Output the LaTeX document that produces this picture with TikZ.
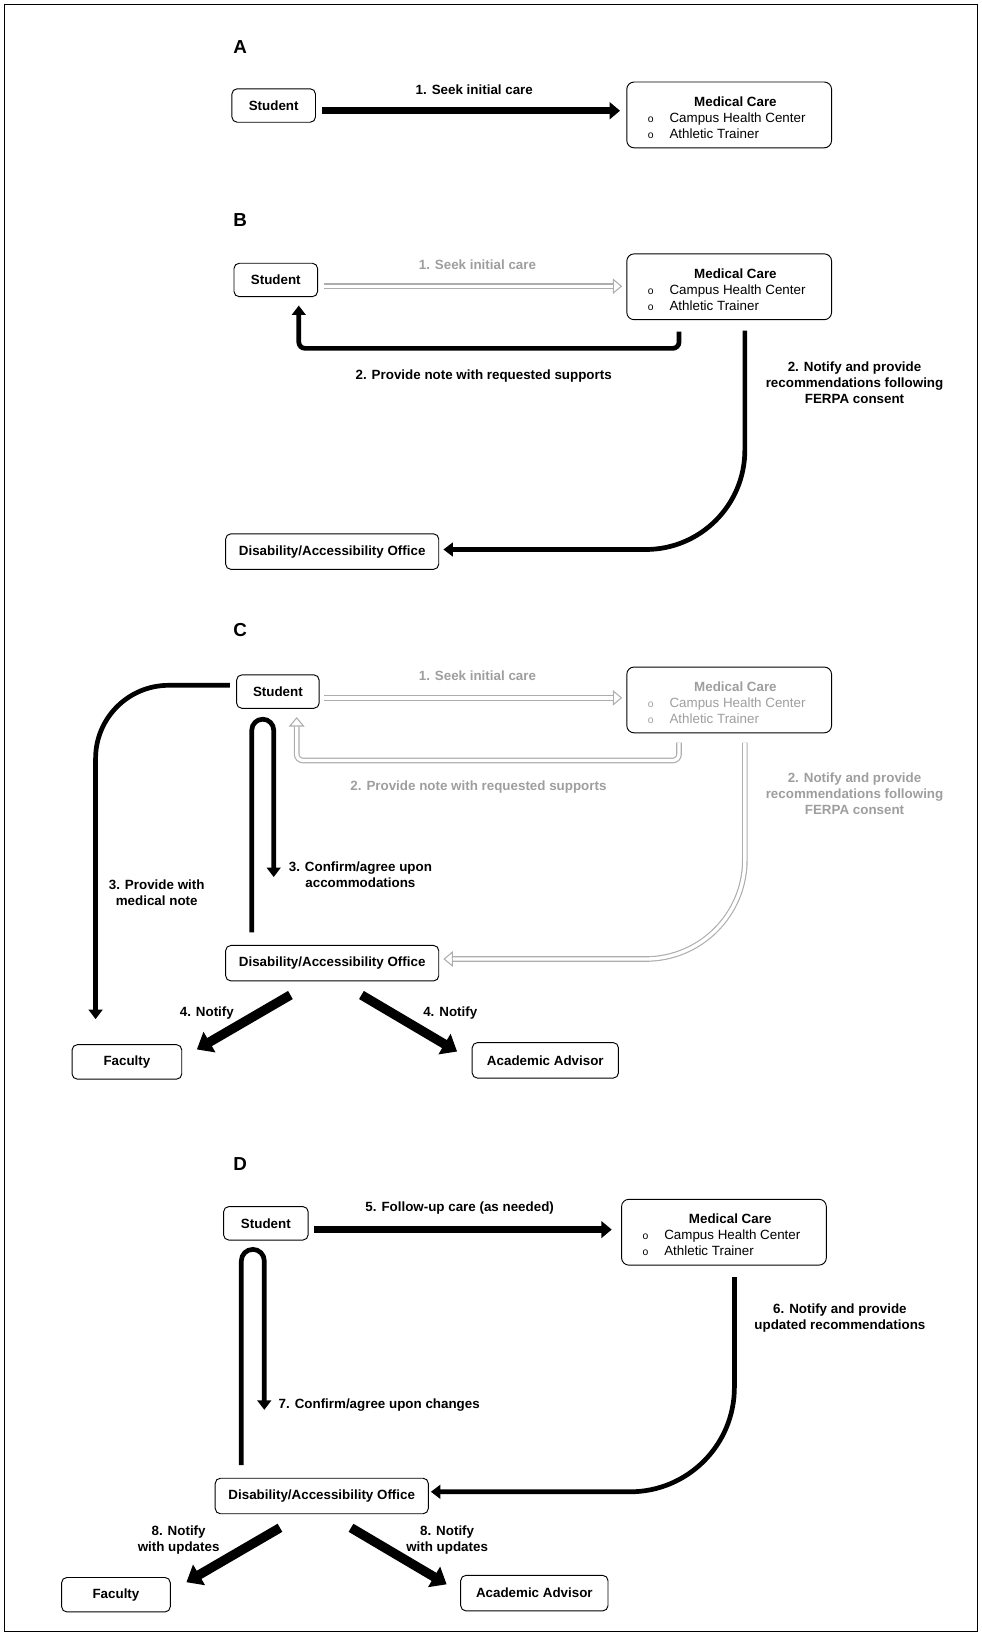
\documentclass[tikz,border=0pt]{standalone}
\usepackage{fontspec}
\setmainfont{Liberation Sans}
\newfontfamily\bulfont{Liberation Mono}
\usetikzlibrary{arrows.meta,calc}
\newcommand{\fsz}{\fontsize{12.8}{15.3}\selectfont}
\newcommand{\bul}{{\bulfont\fontsize{10}{12}\selectfont o}}
\newcommand{\medcare}{\raisebox{0pt}[\dimexpr\height+8pt\relax][\depth]{\begin{tabular}{@{}l@{\hspace{15pt}}l@{\hspace{5pt}}}\multicolumn{2}{@{}c@{}}{\hspace{12pt}\textbf{Medical Care}}\\ \bul & Campus Health Center\\ \bul & Athletic Trainer\end{tabular}}}
\begin{document}
\begin{tikzpicture}[x=1pt,y=-1pt,
  box/.style={draw, rounded corners=5pt, line width=0.9pt, inner sep=0pt, minimum height=32pt, font=\bfseries\fsz},
  medbox/.style={draw, rounded corners=7pt, line width=0.9pt, inner sep=0pt, minimum width=196pt, minimum height=63pt, font=\fsz},
  lbl/.style={font=\bfseries\fsz, align=center, inner sep=0pt},
  glbl/.style={lbl, text=black!38},
  panel/.style={font=\bfseries\fontsize{18}{20}\selectfont, inner sep=0pt},
  harrow/.style={line width=6.5pt, -{Triangle[length=10pt,width=16pt]}},
  carrow/.style={line width=4.5pt, -{Triangle[length=9pt,width=13pt]}},
  darrow/.style={line width=9pt, -{Triangle[length=14pt,width=22pt]}},
  hollowout/.style={draw=black!32, line width=5.4pt, -{Triangle[open,fill=white,length=9pt,width=15pt,line width=1pt]}},
  hollowin/.style={draw=white, line width=3.2pt, shorten >=9pt}
]
\useasboundingbox (0,0) rectangle (940,1567);
\draw[line width=1.2pt] (4,4) rectangle (936,1562);

% ---------------- Panel A
\node[panel] (pA) at (230,45) {A};
\node[box, minimum width=80pt] (stuA) at (262,101) {Student};
\node[medbox] (medA) at (698,110) {\medcare};
\draw[harrow] ($(stuA.east)+(6,5)$) -- ($(medA.west)+(-6,-4)$);
\node[lbl] (lA1) at (454,86) {1. Seek initial care};

% ---------------- Panel B
\node[panel] (pB) at (230,211) {B};
\node[box, minimum width=80pt] (stuB) at (264,268) {Student};
\node[medbox] (medB) at (698,274.5) {\medcare};
\node[box, minimum width=204pt, minimum height=34pt] (daoB) at (318,528) {Disability/Accessibility Office};
\draw[hollowout] ($(stuB.east)+(6,6)$) -- ($(medB.west)+(-4,-0.5)$);
\draw[hollowin] ($(stuB.east)+(6,6)$) -- ($(medB.west)+(-4,-0.5)$);
\node[glbl] (lB1) at (457,253) {1. Seek initial care};
\draw[carrow, rounded corners=6pt] ($(medB.south)+(-48,11)$) -- ++(0,16) -| ($(stuB.south)+(22,8)$);
\node[lbl] (lB2) at (463,360) {2. Provide note with requested supports};
\draw[carrow, rounded corners=95pt] ($(medB.south)+(15,10)$) |- ($(daoB.east)+(4,-2)$);
\node[lbl] (lB3) at (818,366) {2. Notify and provide\\recommendations following\\FERPA consent};

% ---------------- Panel C
\node[panel] (pC) at (230,603) {C};
\node[box, minimum width=79pt] (stuC) at (266,662) {Student};
\node[medbox, text=black!38] (medC) at (698,670) {\medcare};
\node[box, minimum width=204pt, minimum height=34pt] (daoC) at (318,922) {Disability/Accessibility Office};
\node[box, minimum width=105pt, minimum height=33pt] (facC) at (121.5,1016.5) {Faculty};
\node[box, minimum width=140pt, minimum height=34pt] (advC) at (522,1015) {Academic Advisor};
\draw[hollowout] ($(stuC.east)+(4.5,6)$) -- ($(medC.west)+(-4,-2)$);
\draw[hollowin] ($(stuC.east)+(4.5,6)$) -- ($(medC.west)+(-4,-2)$);
\node[glbl] (lC1) at (457,647) {1. Seek initial care};
\draw[hollowout, rounded corners=6pt] ($(medC.south)+(-48,9)$) -- ++(0,17) -| ($(stuC.south)+(18,8)$);
\draw[hollowin, rounded corners=6pt] ($(medC.south)+(-48,9)$) -- ++(0,17) -| ($(stuC.south)+(18,8)$);
\node[glbl] (lC2) at (458,753) {2. Provide note with requested supports};
\draw[hollowout, rounded corners=95pt] ($(medC.south)+(15,9)$) |- ($(daoC.east)+(4,-4)$);
\draw[hollowin, rounded corners=95pt] ($(medC.south)+(15,9)$) |- ($(daoC.east)+(4,-4)$);
\node[glbl] (lC3) at (818,760) {2. Notify and provide\\recommendations following\\FERPA consent};
\draw[carrow, rounded corners=70pt] ($(stuC.west)+(-6,-6)$) -| ($(facC.north)+(-30,-24)$);
\node[lbl] (lC4) at (150,855) {3. Provide with\\medical note};
\draw[carrow, rounded corners=10.5pt] ($(daoC.north)+(-77,-12)$) |- ($(stuC.south)+(-4,10)$) -- ($(daoC.north)+(-56,-65)$);
\node[lbl] (lC5) at (345,837) {3. Confirm/agree upon\\accommodations};
\draw[darrow] ($(daoC.south)+(-40,13)$) -- ($(facC.north east)+(14,5)$);
\draw[darrow] ($(daoC.south)+(28,13)$) -- ($(advC.north west)+(-14,9)$);
\node[lbl] (lC6) at (198,970) {4. Notify};
\node[lbl] (lC7) at (431,970) {4. Notify};

% ---------------- Panel D
\node[panel] (pD) at (230,1114) {D};
\node[box, minimum width=81pt] (stuD) at (254.5,1171) {Student};
\node[medbox] (medD) at (693,1179.5) {\medcare};
\node[box, minimum width=204pt, minimum height=34pt] (daoD) at (308,1432) {Disability/Accessibility Office};
\node[box, minimum width=104pt, minimum height=33pt] (facD) at (111,1526.5) {Faculty};
\node[box, minimum width=141pt, minimum height=34pt] (advD) at (511.5,1525) {Academic Advisor};
\draw[harrow] ($(stuD.east)+(5,6)$) -- ($(medD.west)+(-9,-2.5)$);
\node[lbl] (lD1) at (440,1156) {5. Follow-up care (as needed)};
\draw[carrow, rounded corners=100pt] ($(medD.south)+(10,11)$) |- ($(daoD.east)+(2,-4)$);
\node[lbl] (lD2) at (804,1262) {6. Notify and provide\\updated recommendations};
\draw[carrow, rounded corners=11pt] ($(daoD.north)+(-77,-12)$) |- ($(stuD.south)+(-1.5,8.5)$) -- ($(daoD.north)+(-55,-65)$);
\node[lbl] (lD3) at (363,1345) {7. Confirm/agree upon changes};
\draw[darrow] ($(daoD.south)+(-40,13)$) -- ($(facD.north east)+(15,5)$);
\draw[darrow] ($(daoD.south)+(28,13)$) -- ($(advD.north west)+(-13,9)$);
\node[lbl] (lD4) at (171,1474) {8. Notify\\with updates};
\node[lbl] (lD5) at (428,1474) {8. Notify\\with updates};
\end{tikzpicture}
\end{document}
